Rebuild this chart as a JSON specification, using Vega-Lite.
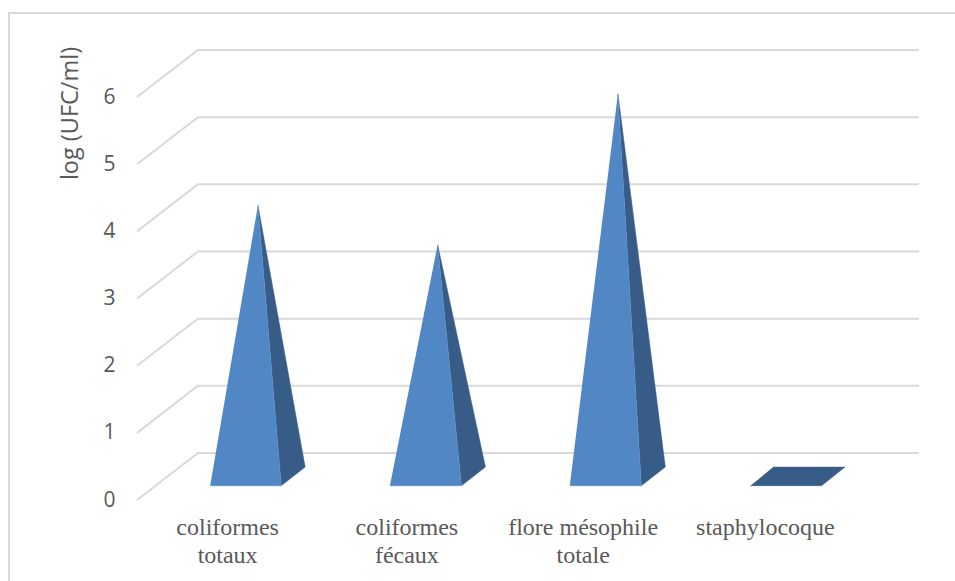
{
  "$schema": "https://vega.github.io/schema/vega-lite/v6.json",
  "width": 721,
  "height": 450,
  "autosize": "none",
  "padding": {"left": 137, "top": 50, "right": 97, "bottom": 81},
  "background": "white",
  "view": {"stroke": null},
  "datasets": {
    "frame": [
      {"x": -0.21, "y": -1.4, "step": 0},
      {"x": -0.21, "y": 7.25, "step": 1},
      {"x": 5.2, "y": 7.25, "step": 2}
    ],
    "grid": [
      {"level": 0, "x": 0.5, "y": 0, "step": 0}, {"level": 0, "x": 0.838, "y": 0.7, "step": 1}, {"level": 0, "x": 4.838, "y": 0.7, "step": 2},
      {"level": 1, "x": 0.5, "y": 1, "step": 0}, {"level": 1, "x": 0.838, "y": 1.7, "step": 1}, {"level": 1, "x": 4.838, "y": 1.7, "step": 2},
      {"level": 2, "x": 0.5, "y": 2, "step": 0}, {"level": 2, "x": 0.838, "y": 2.7, "step": 1}, {"level": 2, "x": 4.838, "y": 2.7, "step": 2},
      {"level": 3, "x": 0.5, "y": 3, "step": 0}, {"level": 3, "x": 0.838, "y": 3.7, "step": 1}, {"level": 3, "x": 4.838, "y": 3.7, "step": 2},
      {"level": 4, "x": 0.5, "y": 4, "step": 0}, {"level": 4, "x": 0.838, "y": 4.7, "step": 1}, {"level": 4, "x": 4.838, "y": 4.7, "step": 2},
      {"level": 5, "x": 0.5, "y": 5, "step": 0}, {"level": 5, "x": 0.838, "y": 5.7, "step": 1}, {"level": 5, "x": 4.838, "y": 5.7, "step": 2},
      {"level": 6, "x": 0.5, "y": 6, "step": 0}, {"level": 6, "x": 0.838, "y": 6.7, "step": 1}, {"level": 6, "x": 4.838, "y": 6.7, "step": 2}
    ],
    "side": [
      {"name": "coliformes totaux", "x": 1.3, "y": 0.213, "step": 0},
      {"name": "coliformes totaux", "x": 1.433, "y": 0.49, "step": 1},
      {"name": "coliformes totaux", "x": 1.171, "y": 4.39, "step": 2},
      {"name": "coliformes fécaux", "x": 2.3, "y": 0.213, "step": 0},
      {"name": "coliformes fécaux", "x": 2.433, "y": 0.49, "step": 1},
      {"name": "coliformes fécaux", "x": 2.168, "y": 3.8, "step": 2},
      {"name": "flore mésophile totale", "x": 3.298, "y": 0.213, "step": 0},
      {"name": "flore mésophile totale", "x": 3.431, "y": 0.49, "step": 1},
      {"name": "flore mésophile totale", "x": 3.168, "y": 6.05, "step": 2},
      {"name": "staphylocoque", "x": 3.903, "y": 0.213, "step": 0},
      {"name": "staphylocoque", "x": 4.298, "y": 0.213, "step": 1},
      {"name": "staphylocoque", "x": 4.428, "y": 0.49, "step": 2},
      {"name": "staphylocoque", "x": 4.03, "y": 0.49, "step": 3}
    ],
    "front": [
      {"name": "coliformes totaux", "x": 0.906, "y": 0.213, "step": 0},
      {"name": "coliformes totaux", "x": 1.3, "y": 0.213, "step": 1},
      {"name": "coliformes totaux", "x": 1.171, "y": 4.39, "step": 2},
      {"name": "coliformes fécaux", "x": 1.903, "y": 0.213, "step": 0},
      {"name": "coliformes fécaux", "x": 2.3, "y": 0.213, "step": 1},
      {"name": "coliformes fécaux", "x": 2.168, "y": 3.8, "step": 2},
      {"name": "flore mésophile totale", "x": 2.901, "y": 0.213, "step": 0},
      {"name": "flore mésophile totale", "x": 3.298, "y": 0.213, "step": 1},
      {"name": "flore mésophile totale", "x": 3.168, "y": 6.05, "step": 2}
    ]
  },
  "encoding": {
    "x": {
      "field": "x",
      "type": "quantitative",
      "scale": {"domain": [0.5, 4.5], "nice": false, "zero": false},
      "axis": {
        "title": null,
        "values": [1, 2, 3, 4],
        "domain": false,
        "ticks": false,
        "grid": false,
        "labelPadding": 15,
        "labelFont": "Liberation Serif",
        "labelFontSize": 24,
        "labelColor": "#595959",
        "labelLineHeight": 28,
        "labelOverlap": false,
        "labelBound": false,
        "labelFlush": false,
        "labelOffset": {
          "condition": [
            {"test": "datum.value === 2", "value": -1},
            {"test": "datum.value === 3", "value": -5},
            {"test": "datum.value === 4", "value": -3}
          ],
          "value": 0
        },
        "labelExpr": "datum.value === 1 ? ['coliformes', 'totaux'] : datum.value === 2 ? ['coliformes', 'fécaux'] : datum.value === 3 ? ['flore mésophile', 'totale'] : 'staphylocoque'"
      }
    },
    "y": {
      "field": "y",
      "type": "quantitative",
      "scale": {"domain": [0, 6.7], "nice": false, "zero": false},
      "axis": {
        "title": "log (UFC/ml)",
        "titleFont": "Open Sans",
        "titleFontSize": 23.5,
        "titleFontWeight": "normal",
        "titleColor": "#595959",
        "titleX": -55,
        "titleY": 63,
        "values": [0, 1, 2, 3, 4, 5, 6],
        "domain": false,
        "ticks": false,
        "grid": false,
        "labelPadding": 22,
        "labelFont": "Open Sans",
        "labelFontSize": 21,
        "labelColor": "#595959"
      }
    }
  },
  "layer": [
    {
      "data": {"name": "frame"},
      "mark": {"type": "line", "color": "#d9d9d9", "strokeWidth": 2, "clip": false},
      "encoding": {"order": {"field": "step"}}
    },
    {
      "data": {"name": "grid"},
      "mark": {"type": "line", "color": "#d9d9d9", "strokeWidth": 2, "clip": false},
      "encoding": {"detail": {"field": "level"}, "order": {"field": "step"}}
    },
    {
      "data": {"name": "side"},
      "mark": {"type": "line", "fill": "#375C87", "stroke": "#375C87", "strokeWidth": 0.5, "clip": false},
      "encoding": {"detail": {"field": "name"}, "order": {"field": "step"}}
    },
    {
      "data": {"name": "front"},
      "mark": {"type": "line", "fill": "#5287C6", "stroke": "#5287C6", "strokeWidth": 0.5, "clip": false},
      "encoding": {"detail": {"field": "name"}, "order": {"field": "step"}}
    }
  ]
}
